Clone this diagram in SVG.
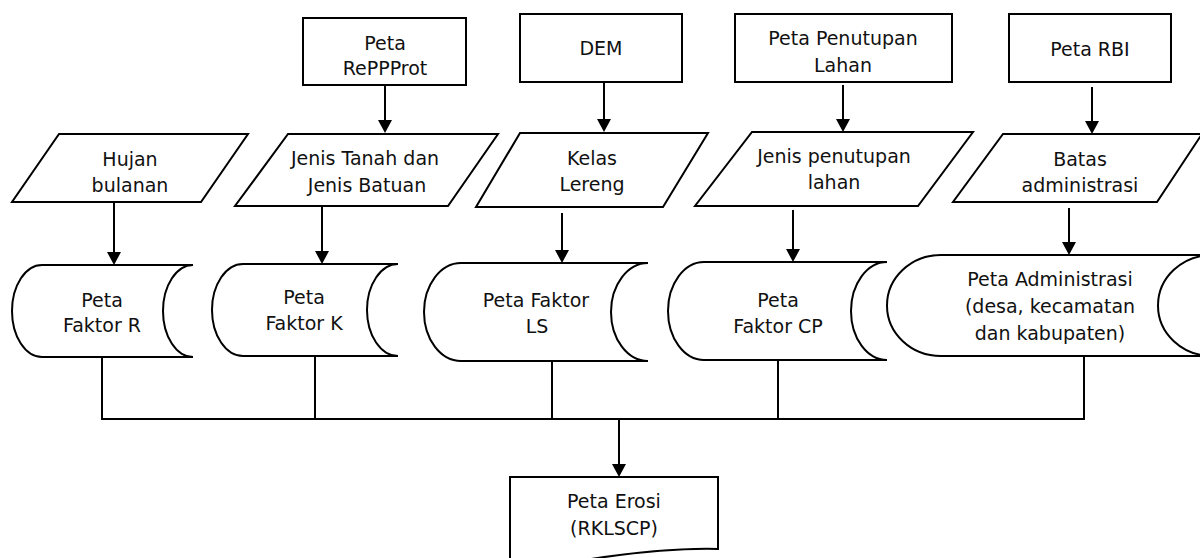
<svg xmlns="http://www.w3.org/2000/svg" width="1200" height="558" viewBox="0 0 1200 558">
<style>
.s{fill:#fff;stroke:#000;stroke-width:2}
.t{font-family:"DejaVu Sans","Liberation Sans",sans-serif;font-size:19px;fill:#111;text-anchor:middle}
.c{fill:none;stroke:#000;stroke-width:2}
</style>
<defs>
<marker id="ah" viewBox="0 0 13 14" refX="9" refY="7" markerWidth="13" markerHeight="14" markerUnits="userSpaceOnUse" orient="auto">
<path d="M0,0 L13,7 L0,14 z" fill="#000"/>
</marker>
</defs>
<rect width="1200" height="558" fill="#fff"/>

<g id="connectors">
<line class="c" x1="385" y1="86" x2="385" y2="129" marker-end="url(#ah)"/>
<line class="c" x1="604" y1="82" x2="604" y2="128" marker-end="url(#ah)"/>
<line class="c" x1="843" y1="85" x2="843" y2="128" marker-end="url(#ah)"/>
<line class="c" x1="1092" y1="87" x2="1092" y2="130" marker-end="url(#ah)"/>
<line class="c" x1="114" y1="202" x2="114" y2="261" marker-end="url(#ah)"/>
<line class="c" x1="322" y1="206" x2="322" y2="260" marker-end="url(#ah)"/>
<line class="c" x1="562" y1="213" x2="562" y2="259" marker-end="url(#ah)"/>
<line class="c" x1="793" y1="210" x2="793" y2="258" marker-end="url(#ah)"/>
<line class="c" x1="1069" y1="208" x2="1069" y2="251" marker-end="url(#ah)"/>
<path class="c" d="M102,357 V419 H1084 V356"/>
<path class="c" d="M315,356 V419"/>
<path class="c" d="M552,361 V419"/>
<path class="c" d="M778,360 V419"/>
<line class="c" x1="619" y1="419" x2="619" y2="473" marker-end="url(#ah)"/>
</g>

<g id="peta-repprot">
<rect class="s" x="303" y="18" width="163" height="67"/>
<text class="t" x="385" y="50">Peta</text>
<text class="t" x="385" y="75">RePPProt</text>
</g>
<g id="dem">
<rect class="s" x="520" y="14" width="162" height="68"/>
<text class="t" x="601" y="55">DEM</text>
</g>
<g id="peta-penutupan">
<rect class="s" x="735" y="14" width="217" height="68"/>
<text class="t" x="843" y="45">Peta Penutupan</text>
<text class="t" x="843" y="72">Lahan</text>
</g>
<g id="peta-rbi">
<rect class="s" x="1009" y="14" width="162" height="68"/>
<text class="t" x="1090" y="56">Peta RBI</text>
</g>

<g id="hujan">
<polygon class="s" points="59,134 248,134 201,202 12,202"/>
<text class="t" x="130" y="166">Hujan</text>
<text class="t" x="130" y="192">bulanan</text>
</g>
<g id="jenis-tanah">
<polygon class="s" points="288,134 498,134 448,206 235,206"/>
<text class="t" x="365" y="165">Jenis Tanah dan</text>
<text class="t" x="367" y="192">Jenis Batuan</text>
</g>
<g id="kelas-lereng">
<polygon class="s" points="520,133 708,133 663,207 476,207"/>
<text class="t" x="592" y="165">Kelas</text>
<text class="t" x="592" y="191">Lereng</text>
</g>
<g id="jenis-penutupan">
<polygon class="s" points="752,132 973,132 918,206 695,206"/>
<text class="t" x="834" y="163">Jenis penutupan</text>
<text class="t" x="834" y="189">lahan</text>
</g>
<g id="batas">
<polygon class="s" points="1003,134 1202,134 1157,202 953,202"/>
<text class="t" x="1080" y="166">Batas</text>
<text class="t" x="1080" y="192">administrasi</text>
</g>

<g id="faktor-r">
<path class="s" d="M42,265 H193 A30,46 0 0 0 193,357 H42 A30,46 0 0 1 42,265 Z"/>
<text class="t" x="102" y="307">Peta</text>
<text class="t" x="102" y="332">Faktor R</text>
</g>
<g id="faktor-k">
<path class="s" d="M243,264 H398 A31,46 0 0 0 398,356 H243 A31,46 0 0 1 243,264 Z"/>
<text class="t" x="304" y="304">Peta</text>
<text class="t" x="304" y="330">Faktor K</text>
</g>
<g id="faktor-ls">
<path class="s" d="M461,263 H648 A37,49 0 0 0 648,361 H461 A37,49 0 0 1 461,263 Z"/>
<text class="t" x="536" y="307">Peta Faktor</text>
<text class="t" x="537" y="333">LS</text>
</g>
<g id="faktor-cp">
<path class="s" d="M704,262 H887 A36,49 0 0 0 887,360 H704 A36,49 0 0 1 704,262 Z"/>
<text class="t" x="778" y="307">Peta</text>
<text class="t" x="778" y="333">Faktor CP</text>
</g>
<g id="administrasi">
<path class="s" d="M941,255 H1212 A54,50.5 0 0 0 1212,356 H941 A54,50.5 0 0 1 941,255 Z"/>
<text class="t" x="1050" y="286">Peta Administrasi</text>
<text class="t" x="1050" y="313">(desa, kecamatan</text>
<text class="t" x="1050" y="340">dan kabupaten)</text>
</g>

<g id="peta-erosi">
<path class="s" d="M510,575 V477 H718 V549 C680,548 630,552 560,564 L510,575 Z"/>
<text class="t" x="614" y="508">Peta Erosi</text>
<text class="t" x="614" y="535">(RKLSCP)</text>
</g>
</svg>
